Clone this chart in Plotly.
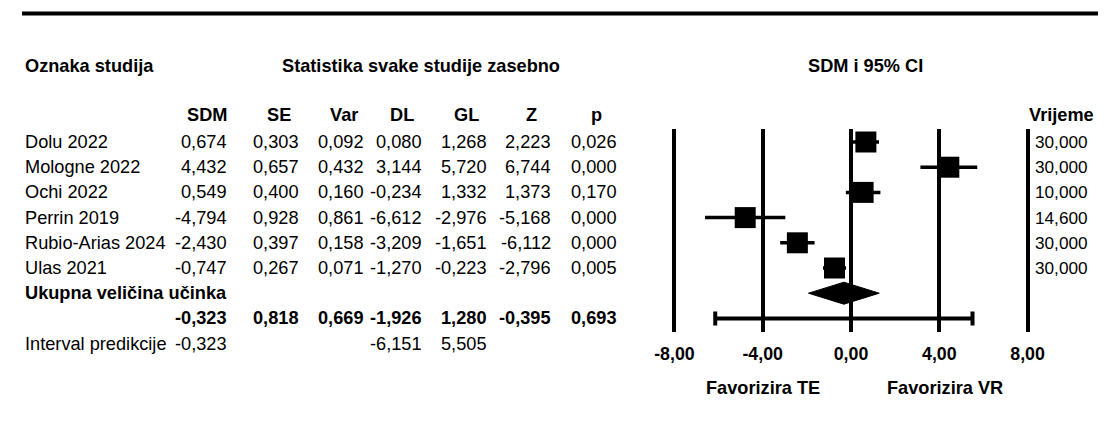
import plotly.graph_objects as go

# ---------------- data ----------------
studies = ["Dolu 2022", "Mologne 2022", "Ochi 2022", "Perrin 2019", "Rubio-Arias 2024", "Ulas 2021"]
sdm = [0.674, 4.432, 0.549, -4.794, -2.430, -0.747]
se = [0.303, 0.657, 0.400, 0.928, 0.397, 0.267]
var = [0.092, 0.432, 0.160, 0.861, 0.158, 0.071]
dl = [0.080, 3.144, -0.234, -6.612, -3.209, -1.270]
gl = [1.268, 5.720, 1.332, -2.976, -1.651, -0.223]
z = [2.223, 6.744, 1.373, -5.168, -6.112, -2.796]
p = [0.026, 0.000, 0.170, 0.000, 0.000, 0.005]
vrijeme = [30.000, 30.000, 10.000, 14.600, 30.000, 30.000]

pooled_label = "Ukupna veličina učinka"
pooled_sdm = -0.323
pooled_se = 0.818
pooled_var = 0.669
pooled_dl = -1.926
pooled_gl = 1.280
pooled_z = -0.395
pooled_p = 0.693

pi_label = "Interval predikcije"
pi_sdm = -0.323
pi_dl = -6.151
pi_gl = 5.505

column_headers = ["SDM", "SE", "Var", "DL", "GL", "Z", "p"]
tick_vals = [-8, -4, 0, 4, 8]
tick_text = ["-8,00", "-4,00", "0,00", "4,00", "8,00"]

title_left = "Oznaka studija"
title_mid = "Statistika svake studije zasebno"
title_right = "SDM i 95% CI"
time_header = "Vrijeme"
fav_left = "Favorizira TE"
fav_right = "Favorizira VR"
fav_pos = [-4, 4.25]

# ---------------- layout geometry (page pixels) ----------------
PAGE_W, PAGE_H = 1109, 439
OFF = 8                              # default body margin of the html page
W, H = PAGE_W - OFF, PAGE_H - OFF    # figure size
ROW0, ROWH = 142, 25.2               # page y of first study row, row pitch
FONT = "Liberation Sans, Arial, sans-serif"
FS = 18.2
FSB = 18.2
FST = 17.8
FSV = 17.2


def rowidx(py):
    return (py - ROW0) / ROWH


def px_x(px):
    return (px - OFF) / W


def py_paper(py):
    return 1 - (py - OFF) / H


def fmt(v):
    return f"{v:.3f}".replace(".", ",")


col_right = [221, 294, 361, 420, 486, 552, 619]   # right edges of number columns
num_w = 45
name_x = 10
time_right = 1101

ax_top, ax_bot = 129, 332
X0_PX, PX_PER_UNIT = 856.5, 22.5625
XPAD = 0.3
xr = [tick_vals[0] - XPAD, tick_vals[-1] + XPAD]
x_dom = [px_x(X0_PX + xr[0] * PX_PER_UNIT), px_x(X0_PX + xr[1] * PX_PER_UNIT)]


def data_to_paper(v):
    return x_dom[0] + (v - xr[0]) / (xr[1] - xr[0]) * (x_dom[1] - x_dom[0])


fig = go.Figure()

n = len(studies)
rows = list(range(n))

# study CI lines + squares
fig.add_trace(go.Scatter(
    x=sdm, y=rows, mode="markers",
    marker=dict(symbol="square", size=21, color="black", line=dict(width=0)),
    error_x=dict(type="data", symmetric=False,
                 array=[g - s for g, s in zip(gl, sdm)],
                 arrayminus=[s - d for s, d in zip(sdm, dl)],
                 color="black", thickness=3.5, width=0),
    hoverinfo="skip", showlegend=False, cliponaxis=False,
))

# pooled diamond
drow = n
hh = 11 / ROWH
fig.add_trace(go.Scatter(
    x=[pooled_dl, pooled_sdm, pooled_gl, pooled_sdm, pooled_dl],
    y=[drow, drow - hh, drow, drow + hh, drow],
    mode="lines", fill="toself", fillcolor="black",
    line=dict(color="black", width=1),
    hoverinfo="skip", showlegend=False,
))

# prediction interval
prow = n + 1
fig.add_trace(go.Scatter(
    x=[pi_sdm], y=[prow], mode="markers",
    marker=dict(size=1, color="rgba(0,0,0,0)"),
    error_x=dict(type="data", symmetric=False,
                 array=[pi_gl - pi_sdm], arrayminus=[pi_sdm - pi_dl],
                 color="black", thickness=4, width=7),
    hoverinfo="skip", showlegend=False, cliponaxis=False,
))

ann = []


def add_text(x, y, text, xanchor="left", bold=False, size=FS):
    ann.append(dict(x=x, y=y, xref="paper", yref="y2", text=text, showarrow=False,
                    xanchor=xanchor, yanchor="middle",
                    font=dict(family=FONT, size=size, color="black",
                              weight="bold" if bold else "normal")))


# headers
add_text(px_x(name_x), rowidx(66), title_left, bold=True, size=FSB)
add_text(px_x(417), rowidx(66), title_mid, xanchor="center", bold=True, size=FSB)
add_text(px_x(871), rowidx(66), title_right, xanchor="center", bold=True, size=FSB)
for h, r in zip(column_headers, col_right):
    add_text(px_x(r - num_w / 2), rowidx(115), h, xanchor="center", bold=True, size=FSB)
add_text(px_x(1107), rowidx(115), time_header, xanchor="right", bold=True, size=FSB)

# study rows
cols = [sdm, se, var, dl, gl, z, p]
for i in range(n):
    add_text(px_x(name_x), i, studies[i])
    for c, r in zip(cols, col_right):
        add_text(px_x(r), i, fmt(c[i]), xanchor="right")
    add_text(px_x(time_right), i, fmt(vrijeme[i]), xanchor="right", size=FSV)

# pooled rows
add_text(px_x(name_x), n, pooled_label, bold=True, size=FSB)
pooled_vals = [pooled_sdm, pooled_se, pooled_var, pooled_dl, pooled_gl, pooled_z, pooled_p]
for v, r in zip(pooled_vals, col_right):
    add_text(px_x(r), n + 1, fmt(v), xanchor="right", bold=True)

# prediction interval row
add_text(px_x(name_x), n + 2, pi_label)
add_text(px_x(col_right[0]), n + 2, fmt(pi_sdm), xanchor="right")
add_text(px_x(col_right[3]), n + 2, fmt(pi_dl), xanchor="right")
add_text(px_x(col_right[4]), n + 2, fmt(pi_gl), xanchor="right")

# favours labels
add_text(data_to_paper(fav_pos[0]), rowidx(388), fav_left, xanchor="center", bold=True, size=FSB)
add_text(data_to_paper(fav_pos[1]), rowidx(388), fav_right, xanchor="center", bold=True, size=FSB)

fig.update_layout(
    width=W, height=H,
    margin=dict(l=0, r=0, t=0, b=0),
    paper_bgcolor="white", plot_bgcolor="rgba(0,0,0,0)",
    annotations=ann,
    showlegend=False,
    shapes=[dict(type="line", xref="paper", yref="paper",
                 x0=px_x(9), x1=1.0, y0=py_paper(13.5), y1=py_paper(13.5),
                 line=dict(color="black", width=4))],
    xaxis=dict(domain=x_dom, range=xr, anchor="y",
               tickvals=tick_vals, ticktext=tick_text,
               showgrid=True, gridcolor="black", gridwidth=3.5,
               zeroline=False, showline=False, ticks="",
               tickfont=dict(family=FONT, size=FST, color="black", weight="bold"),
               ticklabelstandoff=9, fixedrange=True),
    yaxis=dict(domain=[py_paper(ax_bot), py_paper(ax_top)], anchor="x",
               range=[rowidx(ax_bot), rowidx(ax_top)],
               showgrid=False, zeroline=False, showline=False,
               showticklabels=False, ticks="", fixedrange=True),
    xaxis2=dict(domain=[0, 1], range=[0, 1], anchor="y2", visible=False,
                showgrid=False, zeroline=False, fixedrange=True),
    yaxis2=dict(domain=[0, 1], anchor="x2",
                range=[rowidx(PAGE_H), rowidx(OFF)],
                showgrid=False, zeroline=False, showline=False,
                showticklabels=False, ticks="", fixedrange=True, visible=False),
)

fig.write_html("out.html")
